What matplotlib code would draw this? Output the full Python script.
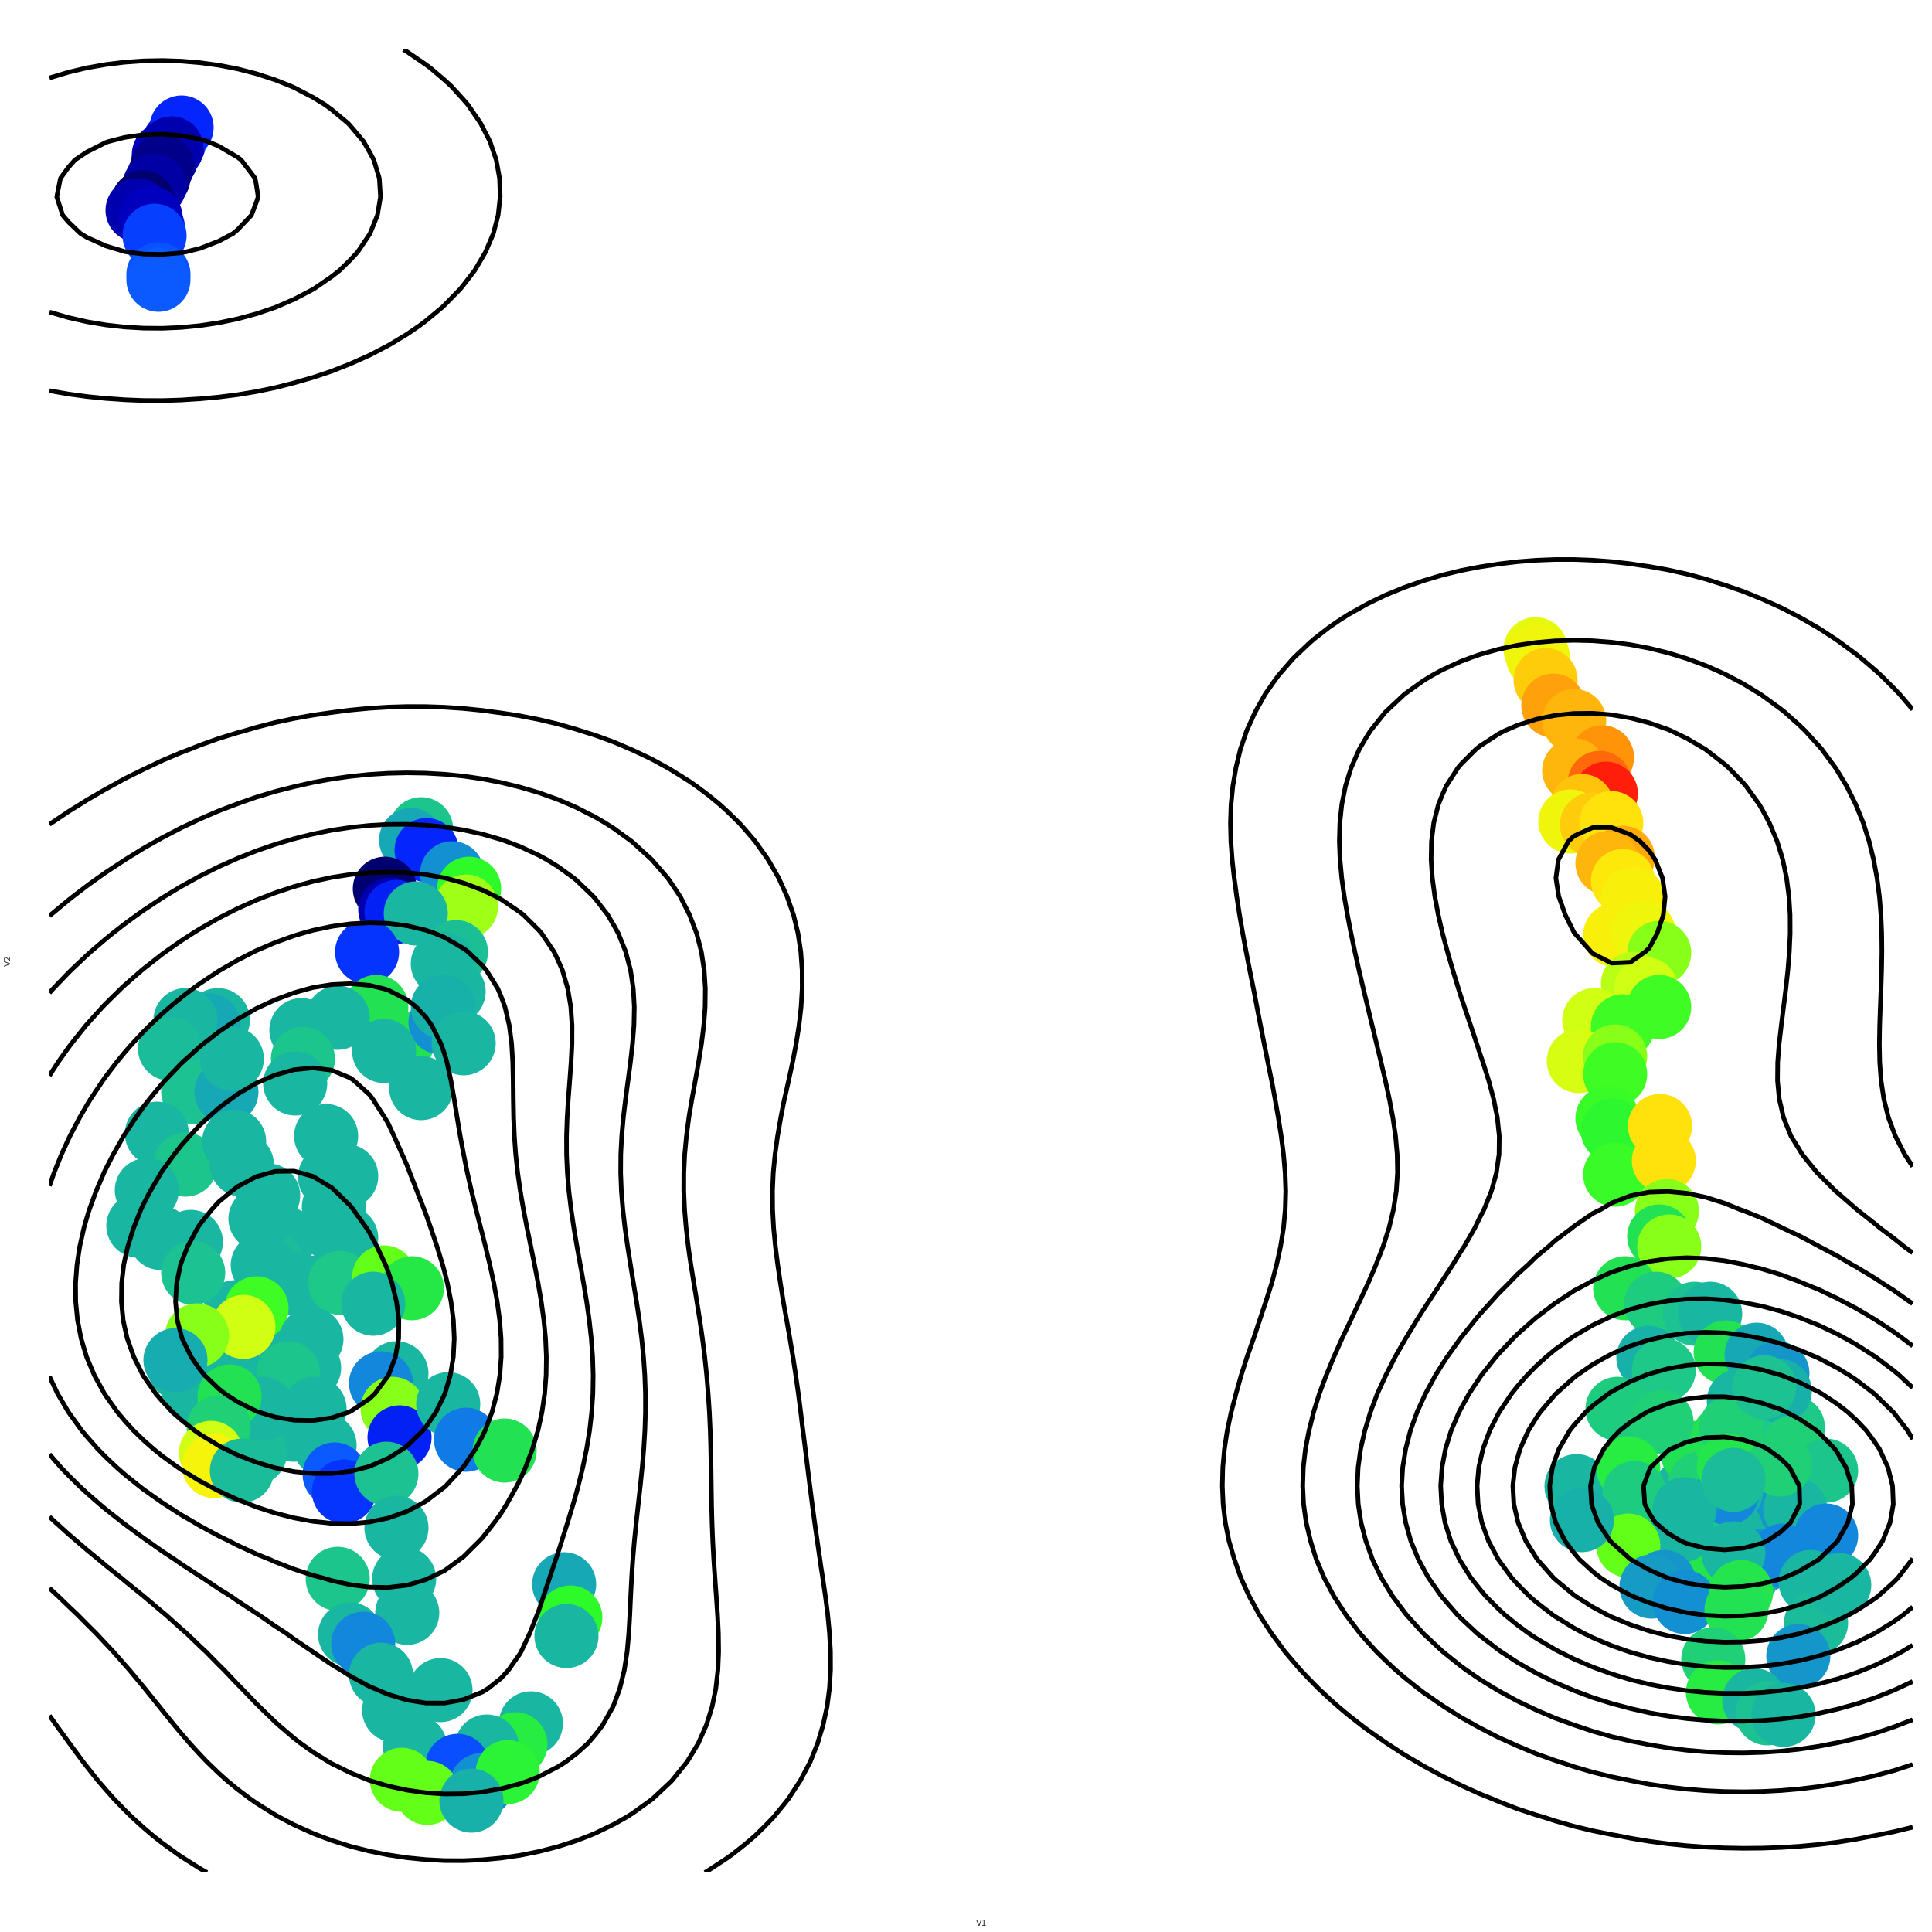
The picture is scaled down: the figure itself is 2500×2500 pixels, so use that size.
import numpy as np
import matplotlib
matplotlib.use("Agg")
import matplotlib.pyplot as plt
from matplotlib.colors import LinearSegmentedColormap

# ---- points (V1, V2) and their colour score ----
# small cluster, top left (dark core is heavily overplotted)
tl_v1 = [2.15, 2.05, 1.92, 1.88, 2.12, 2.25, 1.98,
         2.35, 2.22, 2.10, 2.00, 1.85, 1.78, 1.95, 2.00, 2.05, 2.05]
tl_v2 = [22.95, 22.70, 22.45, 22.30, 23.00, 23.15, 22.05,
         23.35, 23.08, 22.85, 22.60, 22.38, 22.28, 22.18, 21.95, 21.45, 21.38]
tl_score = [0.03, 0.02, 0.01, 0.03, 0.06, 0.08, 0.10,
            0.12, 0.05, 0.02, 0.04, 0.00, 0.05, 0.06, 0.16, 0.19, 0.20]

# big cluster, left
left_v1 = [3.50, 3.00, 3.80, 3.30, 4.20, 2.50,
           5.45, 5.32, 5.52, 5.85, 6.07, 6.03, 4.98, 5.05, 5.13, 5.38,
           5.90, 4.75, 5.73, 5.87, 4.87, 5.20, 5.70, 5.73, 6.00, 4.97,
           5.45, 4.37, 3.90, 3.92, 3.82, 2.82, 2.70, 2.40, 2.20, 2.50,
           2.93, 3.00, 4.22, 4.27, 2.03, 2.40, 3.03, 3.13, 1.90, 3.47,
           1.79, 2.08, 3.68, 4.48, 4.32, 4.48, 3.52, 4.00, 3.04, 2.32,
           2.47, 3.37, 3.40, 4.33, 2.50, 3.70, 4.40, 4.97, 5.33, 4.83,
           3.32, 3.15, 2.55, 2.27, 4.03, 4.00, 3.73, 4.07, 3.40, 2.97,
           2.83, 2.73, 2.77, 3.13, 5.13, 4.93, 5.08, 5.17, 5.80, 6.03,
           6.53, 4.33, 4.45, 5.00, 5.13, 4.37, 5.23, 5.27, 4.53, 4.70,
           5.70, 5.10, 5.37, 7.30, 7.38, 7.33, 6.87, 6.67, 6.30, 5.92,
           6.23, 5.20, 5.53, 6.57, 6.10, 4.93]
left_v2 = [7.50, 7.20, 6.50, 6.20, 6.30, 7.00,
           14.27, 14.13, 14.00, 13.70, 13.50, 13.27, 13.50, 13.23, 13.20, 13.18,
           12.68, 12.68, 12.53, 12.17, 11.97, 11.50, 11.77, 11.97, 11.50, 11.40,
           10.92, 11.83, 11.67, 11.30, 10.98, 11.80, 11.73, 11.80, 11.43, 10.87,
           10.87, 11.30, 10.30, 9.77, 10.33, 9.93, 10.23, 9.93, 9.60, 9.53,
           9.14, 8.98, 8.98, 9.78, 9.38, 8.98, 8.66, 8.34, 8.02, 7.30,
           8.93, 9.23, 8.63, 9.07, 8.53, 8.40, 8.40, 8.47, 8.33, 8.13,
           8.07, 7.83, 7.72, 7.40, 7.67, 7.30, 7.23, 6.77, 6.77, 6.93,
           6.53, 6.20, 6.03, 5.97, 7.23, 7.10, 6.77, 6.40, 6.83, 6.37,
           6.23, 5.92, 5.70, 5.93, 5.23, 4.57, 4.57, 4.13, 3.85, 3.73,
           3.13, 2.87, 2.40, 4.50, 4.07, 3.83, 2.70, 2.43, 2.40, 2.15,
           1.90, 1.97, 1.80, 2.07, 1.70, 3.33]
left_score = [0.42, 0.42, 0.42, 0.44, 0.42, 0.42,
              0.47, 0.37, 0.12, 0.32, 0.62, 0.74, 0.00, 0.05, 0.11, 0.42,
              0.45, 0.14, 0.42, 0.42, 0.55, 0.55, 0.32, 0.40, 0.42, 0.42,
              0.42, 0.42, 0.42, 0.47, 0.42, 0.42, 0.37, 0.42, 0.44, 0.46,
              0.37, 0.42, 0.42, 0.42, 0.42, 0.47, 0.42, 0.42, 0.42, 0.42,
              0.42, 0.42, 0.42, 0.42, 0.42, 0.42, 0.44, 0.42, 0.42, 0.42,
              0.42, 0.42, 0.42, 0.42, 0.46, 0.42, 0.48, 0.68, 0.57, 0.42,
              0.64, 0.78, 0.72, 0.38, 0.42, 0.42, 0.47, 0.42, 0.42, 0.55,
              0.50, 0.78, 0.84, 0.44, 0.42, 0.30, 0.72, 0.11, 0.42, 0.27,
              0.55, 0.20, 0.14, 0.46, 0.42, 0.47, 0.42, 0.42, 0.42, 0.30,
              0.42, 0.42, 0.42, 0.37, 0.62, 0.42, 0.42, 0.58, 0.42, 0.18,
              0.32, 0.68, 0.68, 0.60, 0.40, 0.42]

# cluster on the right (first 21: overplotted cores of the two blobs)
right_v1 = [20.70,
            22.30, 22.00, 22.60, 21.80, 22.90, 22.20, 22.50, 21.90, 22.70, 22.10,
            22.40, 22.00, 22.80, 21.70, 22.30, 22.60, 22.20, 21.90, 22.50, 22.40,
            19.87, 19.90, 20.00, 20.10, 20.37, 20.73, 20.37, 20.70, 20.78, 20.47,
            20.32, 20.60, 20.85, 21.00, 20.80, 21.00, 21.13, 20.90, 21.27, 21.47,
            21.13, 21.30, 21.47, 20.63, 21.00, 20.43, 20.90, 20.90, 20.80, 20.87,
            20.90, 21.48, 21.53, 21.57, 21.47, 21.60, 21.03, 21.43, 21.93, 22.13,
            22.33, 22.73, 21.33, 21.53, 23.00, 20.93, 21.50, 22.50, 23.20, 23.03,
            22.40, 20.40, 21.07, 21.15, 22.35, 21.80, 21.77, 22.37, 23.20, 23.63,
            23.23, 21.07, 23.63, 23.07, 22.43, 21.53, 21.37, 21.80, 22.53, 22.47,
            23.43, 23.50, 22.17, 23.27, 22.23, 22.70, 22.87, 23.08, 23.80, 20.47,
            22.83, 23.03, 22.43]
right_v2 = [14.70,
            5.60, 5.30, 5.90, 5.70, 5.40, 6.00, 5.00, 6.20, 6.10, 4.90,
            5.20, 5.80, 4.80, 5.20, 6.40, 4.60, 5.50, 4.70, 6.50, 5.70,
            16.60, 16.50, 16.20, 15.87, 15.67, 15.20, 15.03, 14.87, 14.73, 14.57,
            14.37, 14.33, 14.35, 13.90, 13.83, 13.60, 13.37, 12.90, 12.93, 12.67,
            12.27, 12.20, 11.97, 11.80, 11.72, 11.27, 11.33, 11.10, 10.53, 10.37,
            9.80, 10.43, 9.98, 9.33, 9.00, 8.87, 8.33, 8.13, 8.00, 8.00,
            7.50, 7.47, 7.43, 7.27, 7.23, 6.77, 6.60, 6.87, 6.53, 7.00,
            6.53, 5.77, 6.00, 5.68, 5.68, 5.47, 5.20, 6.03, 6.27, 5.97,
            5.47, 5.00, 5.13, 4.87, 4.90, 4.53, 4.47, 4.27, 4.40, 4.17,
            4.53, 4.00, 3.53, 3.57, 3.10, 3.00, 2.83, 2.81, 4.49, 5.33,
            7.05, 6.05, 5.85]
right_score = [0.93,
               0.42, 0.46, 0.50, 0.42, 0.33, 0.48, 0.42, 0.55, 0.45, 0.30,
               0.42, 0.50, 0.33, 0.46, 0.55, 0.42, 0.48, 0.56, 0.50, 0.42,
               0.82, 0.83, 0.90, 0.94, 0.92, 0.95, 0.92, 0.97, 1.00, 0.91,
               0.83, 0.90, 0.88, 0.93, 0.92, 0.87, 0.85, 0.85, 0.83, 0.72,
               0.76, 0.78, 0.64, 0.78, 0.64, 0.79, 0.72, 0.64, 0.63, 0.61,
               0.63, 0.88, 0.88, 0.72, 0.55, 0.72, 0.55, 0.49, 0.46, 0.42,
               0.55, 0.37, 0.40, 0.48, 0.33, 0.49, 0.50, 0.42, 0.48, 0.40,
               0.50, 0.42, 0.58, 0.49, 0.30, 0.42, 0.42, 0.56, 0.50, 0.47,
               0.42, 0.68, 0.30, 0.30, 0.42, 0.33, 0.34, 0.32, 0.56, 0.55,
               0.42, 0.44, 0.50, 0.33, 0.58, 0.42, 0.46, 0.42, 0.42, 0.40,
               0.46, 0.50, 0.44]

# colour ramp picked from the dots
ramp_stops = [0.00, 0.06, 0.12, 0.20, 0.30, 0.37, 0.42, 0.48, 0.55, 0.62,
              0.68, 0.72, 0.78, 0.84, 0.88, 0.92, 0.96, 1.00]
ramp_colors = ["#000070", "#0000C0", "#0428FF", "#0A5AFF", "#1288DB", "#17A9B4",
               "#19B6A2", "#1DC888", "#22E252", "#2EFA2A", "#62FF18", "#86FF18",
               "#D0FF14", "#F5F50A", "#FFE40C", "#FFB80C", "#FF8C08", "#FF1E0A"]

n_rings = 10.6  # density peak / contour step


def bw_nrd(v):
    # same rule as MASS::bandwidth.nrd
    q25, q75 = np.percentile(v, [25, 75])
    h = (q75 - q25) / 1.34
    return 4 * 1.06 * min(np.std(v, ddof=1), h) * len(v) ** (-0.2)


def kde2d(x, y, gx, gy):
    hx = bw_nrd(x) / 4 * 0.9
    hy = bw_nrd(y) / 4
    kx = np.exp(-0.5 * ((gx[None, :] - x[:, None]) / hx) ** 2) / (hx * np.sqrt(2 * np.pi))
    ky = np.exp(-0.5 * ((gy[None, :] - y[:, None]) / hy) ** 2) / (hy * np.sqrt(2 * np.pi))
    return ky.T @ kx / len(x)


x = np.array(tl_v1 + left_v1 + right_v1)
y = np.array(tl_v2 + left_v2 + right_v2)
c = np.array(tl_score + left_score + right_score)

cmap = LinearSegmentedColormap.from_list("ramp", list(zip(ramp_stops, ramp_colors)))

xlim = (0.64, 24.75)
ylim = (0.77, 24.36)

fig = plt.figure(figsize=(10, 10), dpi=250)
ax = fig.add_axes([0.0256, 0.0308, 0.9644, 0.9436])
ax.set_xlim(*xlim)
ax.set_ylim(*ylim)
ax.axis("off")

ax.scatter(x, y, c=c, cmap=cmap, vmin=0, vmax=1, s=570, linewidths=0, zorder=2)

gx = np.linspace(xlim[0], xlim[1], 100)
gy = np.linspace(ylim[0], ylim[1], 100)
z = kde2d(x, y, gx, gy)
step = z.max() / n_rings
levels = np.arange(1, int(n_rings) + 1) * step
ax.contour(gx, gy, z, levels=levels, colors="black", linewidths=1.7, zorder=3)

fig.text(0.508, 0.0045, "V1", ha="center", va="center", fontsize=3.2, color="#333333")
fig.text(0.0044, 0.503, "V2", ha="center", va="center", rotation=90, fontsize=3.2, color="#333333")

fig.savefig("out.png", dpi=250, facecolor="white")
